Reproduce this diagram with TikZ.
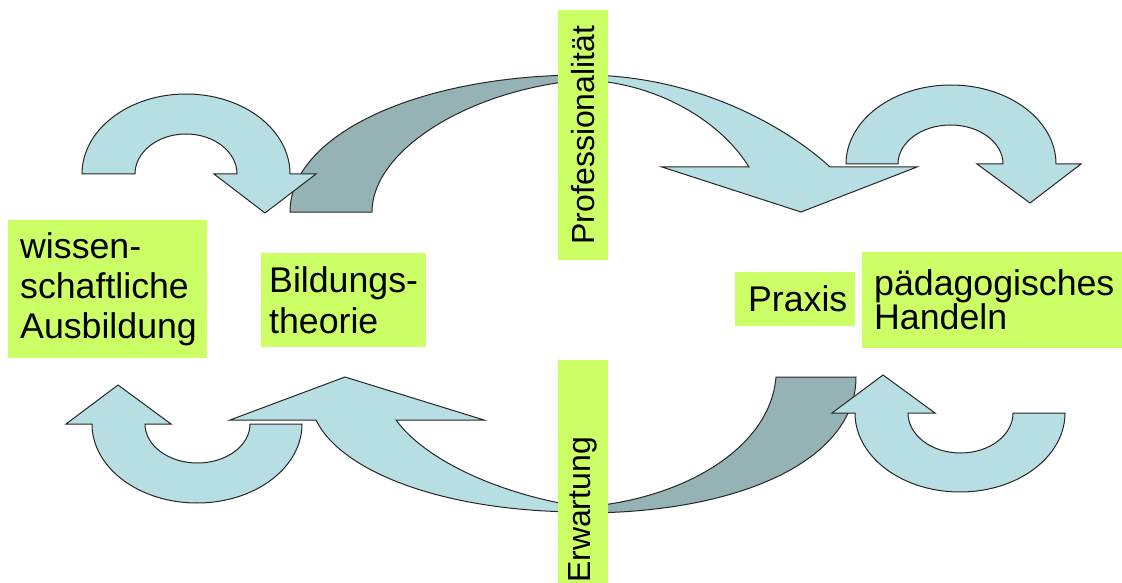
\documentclass[tikz,border=0pt]{standalone}
\usepackage{fontspec}
\setmainfont{Liberation Sans}

\definecolor{boxgreen}{HTML}{CCFF66}
\definecolor{arrowlight}{HTML}{B7DFE3}
\definecolor{arrowdark}{HTML}{95B3B5}

\tikzset{
  lightarrow/.style={fill=arrowlight, draw=black!85, line width=1pt},
  darkarrow/.style={fill=arrowdark, draw=black!85, line width=1pt},
  greenbox/.style={fill=boxgreen, anchor=north west, align=left, inner ysep=0pt,
    font=\fontsize{35.7}{40}\selectfont},
  vlabel/.style={fill=boxgreen, rotate=90, minimum height=50pt, inner sep=0pt,
    font=\fontsize{32}{36}\selectfont}
}

\begin{document}
\begin{tikzpicture}[x=1pt, y=-1pt]
    \useasboundingbox (0,0) rectangle (1122,583);
    \fill[white] (0,0) rectangle (1122,583);

    % upper half
    \draw[darkarrow] (290,212) .. controls (290,134) and (420,75) .. (583,75)
      -- (583,80) .. controls (470,89) and (372,150) .. (372,212) -- cycle;
    \draw[lightarrow] (583,75) .. controls (700,75) and (790,130) .. (830,167)
      -- (917,167) -- (801,212) -- (662,167) -- (749,167)
      .. controls (720,120) and (655,82) .. (583,80) -- cycle;
    \draw[lightarrow] (82,174) arc[start angle=180, end angle=360, x radius=104, y radius=80]
      -- (316,174) -- (265,213) -- (214,174) -- (237,174)
      arc[start angle=360, end angle=180, x radius=51, y radius=40] -- cycle;
    \draw[lightarrow] (846,164) arc[start angle=180, end angle=360, x radius=105, y radius=79]
      -- (1081,164) -- (1030,203) -- (977,164) -- (1003,164)
      arc[start angle=360, end angle=180, x radius=52.5, y radius=39] -- cycle;

    % lower half
    \draw[lightarrow] (583,512) .. controls (440,512) and (340,470) .. (316,420)
      -- (230,420) -- (345,377) -- (484,420) -- (396,420)
      .. controls (425,460) and (500,495) .. (583,507) -- cycle;
    \draw[darkarrow] (583,513) .. controls (740,513) and (856,460) .. (856,377)
      -- (776,377) .. controls (770,450) and (680,500) .. (583,507) -- cycle;
    \draw[lightarrow] (302,424) arc[start angle=0, end angle=180, x radius=105, y radius=79]
      -- (66,424) -- (118,385) -- (171,424) -- (145,424)
      arc[start angle=180, end angle=0, x radius=52.5, y radius=39] -- cycle;
    \draw[lightarrow] (1065,413) arc[start angle=0, end angle=180, x radius=105, y radius=79]
      -- (832,413) -- (883,375) -- (935,413) -- (908,413)
      arc[start angle=180, end angle=0, x radius=52.5, y radius=40] -- cycle;

    % labels
    \node[greenbox, inner xsep=12pt, text width=175pt, minimum height=138pt] (wiss) at (8,220)
      {wissen-\\schaftliche\\Ausbildung};
    \node[greenbox, inner xsep=8pt, text width=149pt, minimum height=94pt,
      font=\fontsize{35.7}{41}\selectfont] (bild) at (261,253) {Bildungs-\\theorie};
    \node[greenbox, align=center, minimum width=120pt, minimum height=54pt] (praxis) at (735,272)
      {\hspace{5pt}Praxis};
    \node[greenbox, inner xsep=12pt, text width=250pt, minimum height=96pt,
      font=\fontsize{35.7}{34}\selectfont] (handeln) at (862,252) {pädagogisches\\Handeln};
    \node[vlabel, minimum width=250pt] (prof) at (583,135) {Professionalität};
    \node[vlabel, minimum width=300pt] (erw) at (583,510) {Erwartung};
\end{tikzpicture}
\end{document}
